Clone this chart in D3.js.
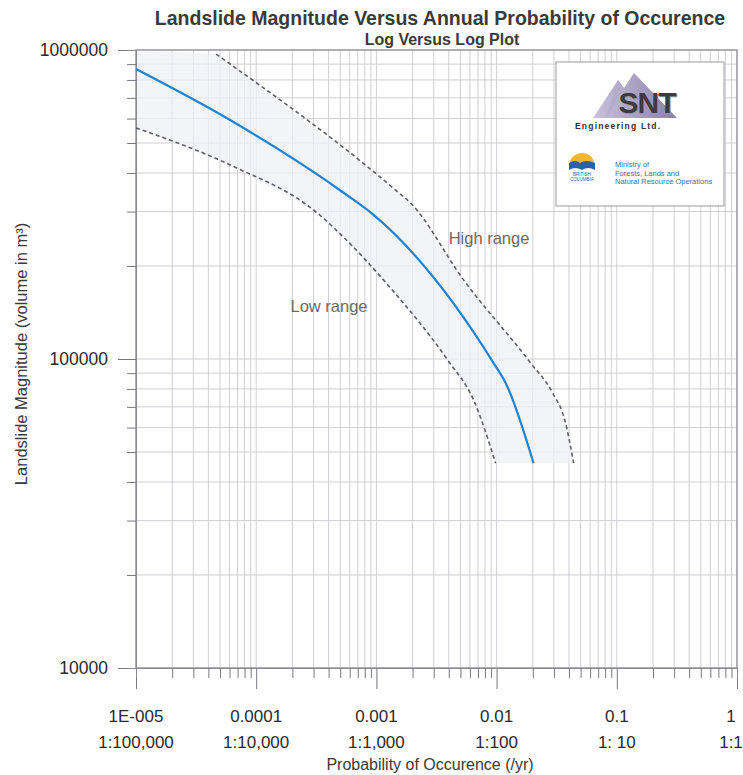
<!DOCTYPE html>
<html>
<head>
<meta charset="utf-8">
<script src="https://cdn.jsdelivr.net/npm/d3@7"></script>
<style>
body { margin: 0; background: #ffffff; }
text { font-family: "Liberation Sans", Arial, sans-serif; }
</style>
</head>
<body>
<script>
// probability (/yr) vs volume (m3)
var centre_line = [[1e-5, 868000], [6.07e-5, 593500], [5.52e-4, 342000], [9.26e-4, 294700],
                   [0.00944, 97000], [0.0119, 83600], [0.0203, 46000]];
var high_range = [[4.64e-5, 970000], [0.00144, 352400], [0.00192, 320000], [0.00531, 180300],
                  [0.0192, 97000], [0.0293, 77600], [0.0369, 63500], [0.0438, 46000]];
var low_range = [[1e-5, 559300], [6.07e-5, 424600], [3.22e-4, 296900], [5.31e-4, 248200],
                 [0.00131, 169700], [0.00391, 99300], [0.00643, 73700], [0.00981, 46000]];

var x_ticks = [1e-5, 1e-4, 1e-3, 1e-2, 1e-1, 1];
var x_labels = ["1E-005", "0.0001", "0.001", "0.01", "0.1", "1"];
var x_ratios = ["1:100,000", "1:10,000", "1:1,000", "1:100", "1: 10", "1:1"];
var y_ticks = [10000, 100000, 1000000];

var width = 743, height = 775;
var plot = {left: 136, right: 737, top: 50, bottom: 668};

var svg = d3.select("body").append("svg")
            .attr("width", width)
            .attr("height", height);

var x = d3.scaleLog().domain([1e-5, 1]).range([plot.left, plot.right]);
var y = d3.scaleLog().domain([10000, 1000000]).range([plot.bottom, plot.top]);

// Titles
svg.append("text")
   .attr("x", 440).attr("y", 25)
   .attr("text-anchor", "middle")
   .attr("font-size", 19.5).attr("font-weight", "bold")
   .attr("fill", "#3a3a3a")
   .text("Landslide Magnitude Versus Annual Probability of Occurence");

svg.append("text")
   .attr("x", 442).attr("y", 45)
   .attr("text-anchor", "middle")
   .attr("font-size", 16).attr("font-weight", "bold")
   .attr("fill", "#3a3a3a")
   .text("Log Versus Log Plot");

// Grid lines
svg.append("g").selectAll("line")
   .data(x.ticks())
   .enter().append("line")
   .attr("x1", function(d) { return x(d); })
   .attr("x2", function(d) { return x(d); })
   .attr("y1", plot.top).attr("y2", plot.bottom)
   .attr("stroke", "#cfcfd4")
   .attr("stroke-width", 1);

svg.append("g").selectAll("line")
   .data(y.ticks())
   .enter().append("line")
   .attr("x1", plot.left).attr("x2", plot.right)
   .attr("y1", function(d) { return y(d); })
   .attr("y2", function(d) { return y(d); })
   .attr("stroke", "#cfcfd4")
   .attr("stroke-width", 1);

// Band between low and high range
var band = [[x.domain()[0], y.domain()[1]]].concat(high_range, low_range.slice().reverse());
svg.append("path")
   .attr("d", d3.line().x(function(d) { return x(d[0]); }).y(function(d) { return y(d[1]); })(band) + "Z")
   .attr("fill", "#eef0f6")
   .attr("opacity", 0.75);

// Frame
svg.append("rect")
   .attr("x", plot.left).attr("y", plot.top)
   .attr("width", plot.right - plot.left).attr("height", plot.bottom - plot.top)
   .attr("fill", "none")
   .attr("stroke", "#8a8a92")
   .attr("stroke-width", 1.2);

// Axes
var y_major = svg.append("g")
   .attr("transform", "translate(" + plot.left + ",0)")
   .call(d3.axisLeft(y).tickValues(y_ticks).tickSize(18).tickPadding(10).tickFormat(d3.format("d")));
var y_minor = svg.append("g")
   .attr("transform", "translate(" + plot.left + ",0)")
   .call(d3.axisLeft(y).tickValues(y.ticks().filter(function(d) { return y_ticks.indexOf(d) < 0; })).tickSize(9).tickFormat(""));
var x_major = svg.append("g")
   .attr("transform", "translate(0," + plot.bottom + ")")
   .call(d3.axisBottom(x).tickValues(x_ticks).tickSize(21).tickFormat(""));
var x_minor = svg.append("g")
   .attr("transform", "translate(0," + plot.bottom + ")")
   .call(d3.axisBottom(x).tickValues(x.ticks().filter(function(d) { return x_ticks.indexOf(d) < 0; })).tickSize(10).tickFormat(""));

[y_major, y_minor, x_major, x_minor].forEach(function(g) {
    g.select(".domain").attr("stroke", "#8a8a92");
    g.selectAll(".tick line").attr("stroke", "#77777f");
    g.selectAll("text").attr("font-size", 17.5).attr("fill", "#2a2a2a")
     .attr("font-family", "Liberation Sans, Arial, sans-serif");
});

// X tick labels, two rows (last one kept inside the page)
function label_x(d) { return Math.min(x(d), width - 12); }

svg.append("g").selectAll("text")
   .data(x_ticks)
   .enter().append("text")
   .attr("x", label_x)
   .attr("y", 722)
   .attr("text-anchor", "middle")
   .attr("font-size", 17).attr("fill", "#2a2a2a")
   .text(function(d, i) { return x_labels[i]; });

svg.append("g").selectAll("text")
   .data(x_ticks)
   .enter().append("text")
   .attr("x", label_x)
   .attr("y", 748)
   .attr("text-anchor", "middle")
   .attr("font-size", 17).attr("fill", "#2a2a2a")
   .text(function(d, i) { return x_ratios[i]; });

// Axis titles
svg.append("text")
   .attr("x", 430).attr("y", 770)
   .attr("text-anchor", "middle")
   .attr("font-size", 16).attr("fill", "#3a3a3a")
   .text("Probability of Occurence (/yr)");

svg.append("text")
   .attr("transform", "translate(27,354) rotate(-90)")
   .attr("text-anchor", "middle")
   .attr("font-size", 16.5).attr("fill", "#3a3a3a")
   .text("Landslide Magnitude (volume in m³)");

// Curves
var line = d3.line()
             .x(function(d) { return x(d[0]); })
             .y(function(d) { return y(d[1]); })
             .curve(d3.curveMonotoneX);

svg.append("path")
   .attr("d", line(high_range))
   .attr("fill", "none")
   .attr("stroke", "#5f5f66")
   .attr("stroke-width", 1.6)
   .attr("stroke-dasharray", "4 3");

svg.append("path")
   .attr("d", line(low_range))
   .attr("fill", "none")
   .attr("stroke", "#5f5f66")
   .attr("stroke-width", 1.6)
   .attr("stroke-dasharray", "4 3");

svg.append("path")
   .attr("d", line(centre_line))
   .attr("fill", "none")
   .attr("stroke", "#1f82d4")
   .attr("stroke-width", 2.2);

// Range labels
svg.append("text")
   .attr("x", 489).attr("y", 244)
   .attr("text-anchor", "middle")
   .attr("font-size", 16.5).attr("fill", "#6a6a6a")
   .text("High range");

svg.append("text")
   .attr("x", 329).attr("y", 312)
   .attr("text-anchor", "middle")
   .attr("font-size", 16.5).attr("fill", "#6a6a6a")
   .text("Low range");

// Logo box
var logo = svg.append("g");
logo.append("rect")
    .attr("x", 556).attr("y", 62)
    .attr("width", 168).attr("height", 144)
    .attr("fill", "#ffffff")
    .attr("stroke", "#9a9aa0")
    .attr("stroke-width", 1);

var grad = svg.append("defs").append("linearGradient")
              .attr("id", "mtn").attr("x1", "0").attr("y1", "0").attr("x2", "1").attr("y2", "0");
grad.append("stop").attr("offset", "0").attr("stop-color", "#c9c3dc");
grad.append("stop").attr("offset", "1").attr("stop-color", "#8a80a8");

logo.append("path")
    .attr("d", "M593,118 L618,80 L624,88 L634,73 L677,118 Z")
    .attr("fill", "url(#mtn)");
logo.append("path")
    .attr("d", "M606,118 L618,80 L624,88 Z")
    .attr("fill", "#b4acc9");

logo.append("text")
    .attr("x", 648).attr("y", 114)
    .attr("text-anchor", "middle")
    .attr("font-size", 30).attr("font-weight", "bold")
    .attr("fill", "#9a9a9e")
    .attr("letter-spacing", -1)
    .text("SNT");
logo.append("text")
    .attr("x", 647).attr("y", 113)
    .attr("text-anchor", "middle")
    .attr("font-size", 30).attr("font-weight", "bold")
    .attr("fill", "#3c3c40")
    .attr("letter-spacing", -1)
    .text("SNT");

logo.append("text")
    .attr("x", 575).attr("y", 129)
    .attr("font-size", 8.5).attr("font-weight", "bold")
    .attr("letter-spacing", 1.2)
    .attr("fill", "#333")
    .text("Engineering  Ltd.");

// BC emblem
logo.append("path")
    .attr("d", "M570,163 A12,10 0 0,1 594,163 Z")
    .attr("fill", "#f2b72e");
logo.append("path")
    .attr("d", "M569,163 Q575,159 580,163 Q586,159 595,163 L595,170 Q588,166 582,170 Q575,166 569,170 Z")
    .attr("fill", "#2d5fa8");
logo.append("text")
    .attr("x", 582).attr("y", 176)
    .attr("text-anchor", "middle")
    .attr("font-size", 4.5).attr("fill", "#2d5fa8")
    .attr("font-family", "Liberation Serif, serif")
    .text("BRITISH");
logo.append("text")
    .attr("x", 582).attr("y", 181)
    .attr("text-anchor", "middle")
    .attr("font-size", 4.5).attr("fill", "#2d5fa8")
    .attr("font-family", "Liberation Serif, serif")
    .text("COLUMBIA");

var ministry = ["Ministry of", "Forests, Lands and", "Natural Resource Operations"];
logo.append("g").selectAll("text")
    .data(ministry)
    .enter().append("text")
    .attr("x", 615)
    .attr("y", function(d, i) { return 167 + i * 8.5; })
    .attr("font-size", 7.5)
    .attr("font-family", "Liberation Serif, serif")
    .attr("fill", "#3d6fb5")
    .text(function(d) { return d; });
</script>
</body>
</html>
